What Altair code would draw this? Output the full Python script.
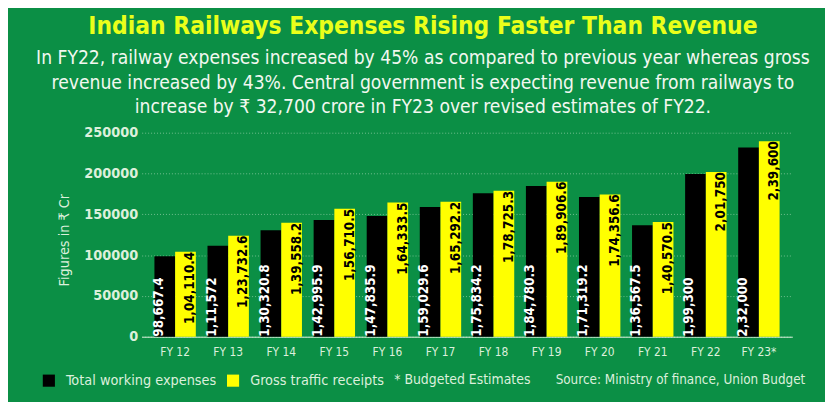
import altair as alt
import pandas as pd

years = ["FY 12", "FY 13", "FY 14", "FY 15", "FY 16", "FY 17", "FY 18", "FY 19", "FY 20", "FY 21", "FY 22", "FY 23*"]
expenses = [98667.4, 111572, 130320.8, 142995.9, 147835.9, 159029.6, 175834.2, 184780.3, 171319.2, 136567.5, 199300, 232000]
receipts = [104110.4, 123732.6, 139558.2, 156710.5, 164333.5, 165292.2, 178725.3, 189906.6, 174356.6, 140570.5, 201750, 239600]
exp_labels = ["98,667.4", "1,11,572", "1,30,320.8", "1,42,995.9", "1,47,835.9", "1,59,029.6", "1,75,834.2",
              "1,84,780.3", "1,71,319.2", "1,36,567.5", "1,99,300", "2,32,000"]
rec_labels = ["1,04,110.4", "1,23,732.6", "1,39,558.2", "1,56,710.5", "1,64,333.5", "1,65,292.2", "1,78,725.3",
              "1,89,906.6", "1,74,356.6", "1,40,570.5", "2,01,750", "2,39,600"]
series = ["Total working expenses", "Gross traffic receipts"]
y_ticks = [0, 50000, 100000, 150000, 200000, 250000]

title_text = "Indian Railways Expenses Rising Faster Than Revenue"
subtitle_lines = [
    "In FY22, railway expenses increased by 45% as compared to previous year whereas gross",
    "revenue increased by 43%. Central government is expecting revenue from railways to",
    "increase by \u20b9 32,700 crore in FY23 over revised estimates of FY22.",
]
note_text = "* Budgeted Estimates"
source_text = "Source: Ministry of finance, Union Budget"

FONT = "DejaVu Sans Condensed"
GREEN = "#0b8f45"
LIGHT = "#dcf0dc"
YELLOW = "#ffff00"

rows = []
for i, yr in enumerate(years):
    rows.append({"Year": yr, "Series": series[0], "Value": expenses[i], "Label": exp_labels[i]})
    rows.append({"Year": yr, "Series": series[1], "Value": receipts[i], "Label": rec_labels[i]})
df = pd.DataFrame(rows)

x_enc = alt.X("Year:N", sort=years,
              scale=alt.Scale(paddingInner=0.22, paddingOuter=0.24),
              axis=alt.Axis(title=None, labelAngle=0, labelFontSize=12, labelColor=LIGHT, labelFont=FONT,
                            ticks=False, domainColor=LIGHT, domainWidth=1, labelPadding=10))
xo_enc = alt.XOffset("Series:N", sort=series, scale=alt.Scale(domain=series))
y_scale = alt.Scale(domain=[0, 250000], nice=False)

bars = alt.Chart(df).mark_bar().encode(
    x=x_enc,
    xOffset=xo_enc,
    y=alt.Y("Value:Q", scale=y_scale,
            axis=alt.Axis(values=y_ticks, format="d", labelFontSize=14.5, labelFontWeight="bold",
                          labelColor=LIGHT, labelFont=FONT, ticks=False, domain=False, labelPadding=4,
                          grid=True, gridColor=LIGHT, gridDash=[1, 2], gridOpacity=0.5,
                          title="Figures in \u20b9 Cr", titleFont=FONT, titleFontSize=14.5,
                          titleFontWeight="normal", titleColor=LIGHT, titleAngle=270,
                          titleX=-78, titleY=108, titleAlign="center", titleBaseline="middle")),
    color=alt.Color("Series:N", scale=alt.Scale(domain=series, range=["#000000", YELLOW]),
                    legend=alt.Legend(orient="none", legendX=-101, legendY=243, direction="horizontal",
                                      title=None, symbolType="square", symbolSize=150,
                                      symbolStrokeWidth=0, symbolOpacity=1, labelFontSize=14.5,
                                      labelFont=FONT, labelColor=LIGHT, labelOffset=10,
                                      columnPadding=9)),
)

exp_text = alt.Chart(df).transform_filter(alt.datum.Series == series[0]).mark_text(
    angle=270, align="left", baseline="middle", dy=-6, font=FONT, fontSize=13.5,
    fontWeight="bold", color="#ffffff"
).encode(x=alt.X("Year:N", sort=years), xOffset=xo_enc, y=alt.datum(0), text="Label:N")

rec_text = alt.Chart(df).transform_filter(alt.datum.Series == series[1]).mark_text(
    angle=270, align="right", baseline="middle", dy=5, font=FONT, fontSize=13.5,
    fontWeight="bold", color="#000000"
).encode(x=alt.X("Year:N", sort=years), xOffset=xo_enc, y=alt.Y("Value:Q"), text="Label:N")


def free_text(txt, x, y, size, color, weight="normal", align="center"):
    return alt.Chart(pd.DataFrame({"t": [txt]})).mark_text(
        font=FONT, fontSize=size, fontWeight=weight, color=color, align=align, baseline="middle"
    ).encode(x=alt.value(x), y=alt.value(y), text="t:N")


texts = [free_text(title_text, 284, -107, 24.6, "#eaff1a", "bold")]
for line, yy in zip(subtitle_lines, [-75, -50, -26]):
    texts.append(free_text(line, 284, yy, 19.3, "#f2f8f0"))
texts.append(free_text(note_text, 255, 250, 14, LIGHT, align="left"))
texts.append(free_text(source_text, 418, 250, 13.5, LIGHT, align="left"))

chart = alt.layer(bars, exp_text, rec_text, *texts).properties(
    width=657, height=206,
    padding={"left": 135, "top": 124, "right": 33, "bottom": 64},
    autosize=alt.AutoSizeParams(type="none"),
    background=GREEN,
).configure_view(stroke=None)

chart.save("out.html", embed_options={"renderer": "svg", "actions": False})
